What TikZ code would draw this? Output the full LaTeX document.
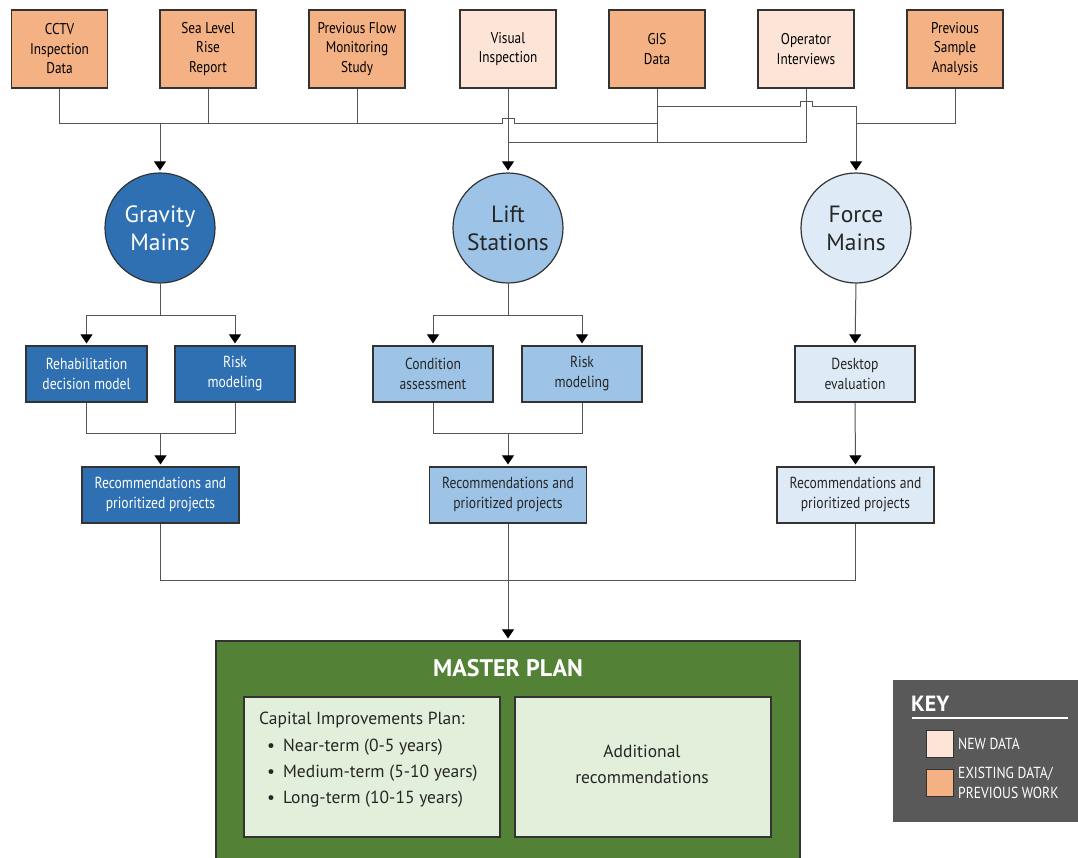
\documentclass[tikz,border=0pt]{standalone}
\usepackage{fontspec}
\setmainfont{PT Sans}
\newfontfamily\condfont[FakeStretch=0.85]{PT Sans}
\usetikzlibrary{arrows.meta,calc}
\definecolor{exist}{HTML}{F4B183}
\definecolor{newd}{HTML}{FCE4D6}
\definecolor{dblue}{HTML}{2E70B1}
\definecolor{mblue}{HTML}{9DC3E6}
\definecolor{lblue}{HTML}{DEEBF7}
\definecolor{mgreen}{HTML}{538135}
\definecolor{lgreen}{HTML}{E2EFDA}
\definecolor{keygrey}{HTML}{595959}
\definecolor{edge}{HTML}{333333}
\definecolor{wire}{HTML}{555555}
\begin{document}
\begin{tikzpicture}[x=1pt,y=-1pt,
  src/.style={draw=edge, line width=1.2pt, minimum width=96pt, minimum height=78pt, align=center, inner sep=0pt, font=\condfont\fontsize{15.6}{19.5}\selectfont},
  circ/.style={circle, draw=edge, line width=1.2pt, minimum size=110pt, inner sep=0pt, align=center, font=\fontsize{23.5}{28}\selectfont},
  task/.style={draw=edge, line width=1.2pt, minimum width=120pt, minimum height=56pt, inner sep=0pt, align=center, font=\condfont\fontsize{16}{20}\selectfont},
  rec/.style={task, minimum width=157pt},
  conn/.style={draw=wire, line width=1pt},
  arr/.style={conn, -{Triangle[width=12pt,length=9pt,color=black]}, shorten >=2pt},
  inner/.style={draw=edge, line width=1.2pt, fill=lgreen, minimum width=256pt, minimum height=140pt, inner sep=0pt},
  body/.style={font=\fontsize{17.5}{26}\selectfont, text=black!85, inner sep=0pt}
]
\useasboundingbox (0,0) rectangle (1078,857);
\fill[white] (0,0) rectangle (1078,857);

% source boxes
\node[src, fill=exist] (cctv) at (59.5,49) {CCTV\\Inspection\\Data};
\node[src, fill=exist] (sea)  at (208,49) {Sea Level\\Rise\\Report};
\node[src, fill=exist] (flow) at (357,49) {Previous Flow\\Monitoring\\Study};
\node[src, fill=newd]  (vis)  at (508,49) {Visual\\Inspection};
\node[src, fill=exist] (gis)  at (657,49) {GIS\\Data};
\node[src, fill=newd]  (op)   at (806,49) {Operator\\Interviews};
\node[src, fill=exist] (prev) at (955,49) {Previous\\Sample\\Analysis};

% circles
\node[circ, fill=dblue, text=white] (grav)  at (160,228) {Gravity\\Mains};
\node[circ, fill=mblue, text=black!85] (lift) at (508,228) {Lift\\Stations};
\node[circ, fill=lblue, text=black!85] (force) at (856,228) {Force\\Mains};

% level 2
\node[task, fill=dblue, text=white, minimum width=121pt] (rehab) at (86.5,374) {Rehabilitation\\decision model};
\node[task, fill=dblue, text=white] (riskg) at (235,374) {Risk\\modeling};
\node[task, fill=mblue, text=black!85] (cond) at (433,374) {Condition\\assessment};
\node[task, fill=mblue, text=black!85] (riskl) at (582,374) {Risk\\modeling};
\node[task, fill=lblue, text=black!85] (desk) at (855,374) {Desktop\\evaluation};

% recommendations
\node[rec, fill=dblue, text=white] (recg) at (160.5,495) {Recommendations and\\prioritized projects};
\node[rec, fill=mblue, text=black!85] (recl) at (508,495) {Recommendations and\\prioritized projects};
\node[rec, fill=lblue, text=black!85] (recf) at (855.5,495) {Recommendations and\\prioritized projects};

% master plan
\node[draw=edge, line width=1.2pt, fill=mgreen, minimum width=584pt, minimum height=220pt, inner sep=0pt] (master) at (508,751) {};
\node[font=\bfseries\fontsize{24}{28}\selectfont, text=white, inner sep=0pt] (mtitle) at (508,668) {MASTER PLAN};
\node[inner] (cip) at (372,767) {};
\node[inner] (add) at (643,767) {};
\node[body, anchor=west] (ciptxt) at (259,720) {Capital Improvements Plan:};
\node[body, anchor=west] (b1) at (267,747) {\textbullet\hspace{8pt}Near-term (0-5 years)};
\node[body, anchor=west] (b2) at (267,773) {\textbullet\hspace{8pt}Medium-term (5-10 years)};
\node[body, anchor=west] (b3) at (267,799) {\textbullet\hspace{8pt}Long-term (10-15 years)};
\node[body, align=center] (addtxt) at (642,764) {Additional\\recommendations};

% key
\node[fill=keygrey, minimum width=185pt, minimum height=142pt, inner sep=0pt] (key) at (985.5,751) {};
\node[font=\bfseries\fontsize{22}{24}\selectfont, text=white, anchor=west, inner sep=0pt] (keyt) at (911,704) {KEY};
\coordinate (kl1) at (912,718);
\coordinate (kl2) at (1068,718);
\draw[white, line width=1.5pt] (kl1) -- (kl2);
\node[draw=black!80, line width=1.2pt, fill=newd, minimum size=27pt, inner sep=0pt] (kn) at (940,744) {};
\node[draw=black!80, line width=1.2pt, fill=exist, minimum size=27pt, inner sep=0pt] (ke) at (940,783) {};
\node[anchor=west, text=white, font=\condfont\fontsize{16}{20}\selectfont, inner sep=0pt] (knt) at (958,744) {NEW DATA};
\node[anchor=west, align=left, text=white, font=\condfont\fontsize{16}{20}\selectfont, inner sep=0pt] (ket) at (958,783) {EXISTING DATA/\\PREVIOUS WORK};

% top wiring
\coordinate (busT) at (0,106);
\coordinate (busL) at (0,123);
\coordinate (busB) at (0,142);
\draw[conn] (cctv.south) -- (cctv.south|-busL) -- ($(vis.south|-busL)+(-6,0)$) -- ++(0,-5) -- ++(12,0) -- ++(0,5) -- (gis.south|-busL);
\draw[conn] (sea.south) -- (sea.south|-busL);
\draw[conn] (flow.south) -- (flow.south|-busL);
\draw[arr] (grav.north|-busL) -- (grav.north);
\draw[conn] (gis.south) -- (gis.south|-busB);
\draw[arr] (vis.south) -- (lift.north);
\draw[conn] (vis.south|-busB) -- (op.south|-busB) -- (op.south);
\draw[conn] (gis.south|-busT) -- ($(op.south|-busT)+(-6,0)$) -- ++(0,-5) -- ++(12,0) -- ++(0,5) -- (force.north|-busT);
\draw[arr] (force.north|-busT) -- (force.north);
\draw[conn] (prev.south) |- (force.north|-busL);

% level 2 wiring
\coordinate (lev) at (0,315);
\coordinate (mrg) at (0,433);
\coordinate (fin) at (0,580);
\draw[conn] (grav.south) -- (grav.south|-lev);
\draw[arr] (grav.south|-lev) -| (rehab.north);
\draw[arr] (grav.south|-lev) -| (riskg.north);
\draw[conn] (lift.south) -- (lift.south|-lev);
\draw[arr] (lift.south|-lev) -| (cond.north);
\draw[arr] (lift.south|-lev) -| (riskl.north);
\draw[arr] (force.south) -- (desk.north);

\draw[conn] (rehab.south) |- (riskg.south|-mrg) -- (riskg.south);
\draw[arr] (recg.north|-mrg) -- (recg.north);
\draw[conn] (cond.south) |- (riskl.south|-mrg) -- (riskl.south);
\draw[arr] (recl.north|-mrg) -- (recl.north);
\draw[arr] (desk.south) -- (recf.north);

\draw[conn] (recg.south) |- (recf.south|-fin) -- (recf.south);
\draw[arr] (recl.south) -- (master.north);
\end{tikzpicture}
\end{document}
